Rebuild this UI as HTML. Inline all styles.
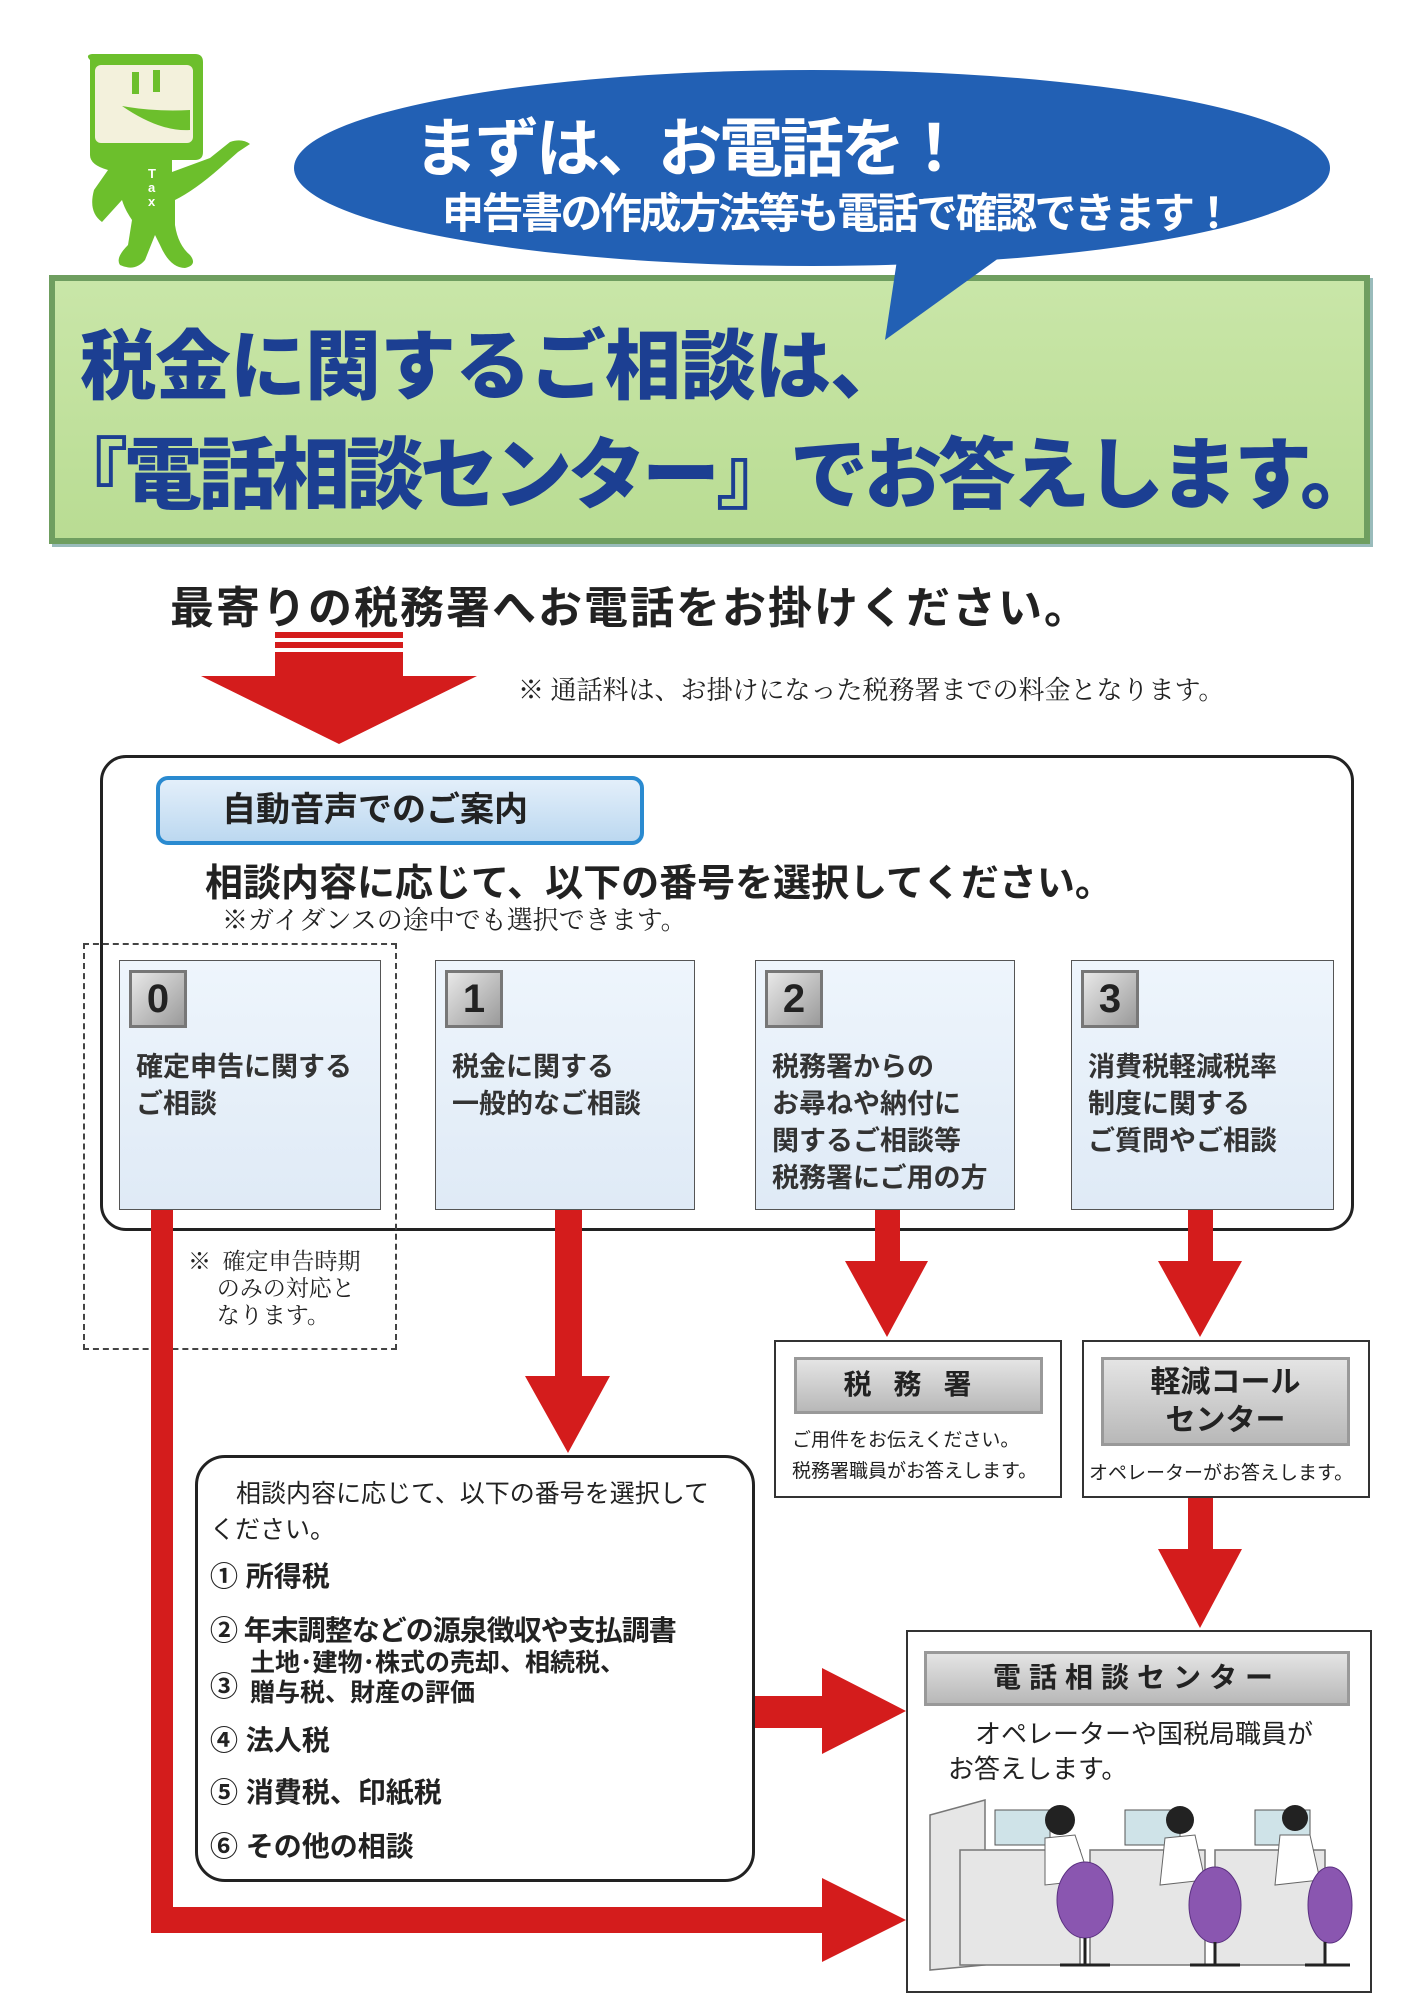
<!DOCTYPE html>
<html><head><meta charset="utf-8">
<style>
*{margin:0;padding:0;box-sizing:border-box}
body{width:1414px;height:2000px;background:#fff;position:relative;overflow:hidden;font-family:"Liberation Sans","Noto Sans CJK JP",sans-serif;}
.a{position:absolute;white-space:nowrap}
.serif{font-family:"Liberation Serif","Noto Serif CJK SC",serif;color:#222}
.opt{position:absolute;top:960px;height:250px;background:linear-gradient(#eef5fc,#dfeaf6);border:1.5px solid #555}
.num{position:absolute;left:9px;top:9px;width:58px;height:58px;background:linear-gradient(135deg,#e8e8e8,#9a9a9a);border:3px solid #777;font-size:40px;font-weight:bold;color:#222;text-align:center;line-height:52px}
.ot{position:absolute;left:16px;top:88px;font-size:27px;font-weight:bold;color:#333;line-height:37px;white-space:nowrap}
.glabel{position:absolute;background:linear-gradient(#e4e4e4,#b8b8b8);border:3px solid #999;font-weight:bold;color:#222;text-align:center}
</style></head><body>

<!-- mascot -->
<svg class="a" style="left:60px;top:40px" width="220" height="240" viewBox="0 0 220 240">
<path d="M30 20 Q25 15 32 14 L135 14 Q143 14 143 22 L143 112 Q143 120 135 120 L112 120 L112 132 L150 118 L170 102 Q182 98 190 104 L178 112 L160 128 Q135 150 115 160 L115 185 Q118 205 130 215 Q138 225 125 228 Q110 228 100 205 L95 195 L85 220 Q75 232 60 225 Q55 218 68 205 L72 180 Q65 170 62 160 L42 182 Q28 172 34 150 L48 130 Q30 125 30 115 Z" fill="#6cbf2c"/>
<rect x="35" y="25" width="98" height="78" rx="6" fill="#f3f1dc"/>
<rect x="72" y="32" width="7" height="22" fill="#6cbf2c"/><rect x="93" y="30" width="7" height="22" fill="#6cbf2c"/>
<path d="M62 66 Q95 72 130 70 L130 90 Q100 92 62 66Z" fill="#6cbf2c"/>
<text x="88" y="138" font-size="13" font-weight="bold" fill="#fff" font-family="Liberation Sans">T</text>
<text x="88" y="152" font-size="13" font-weight="bold" fill="#fff" font-family="Liberation Sans">a</text>
<text x="88" y="166" font-size="13" font-weight="bold" fill="#fff" font-family="Liberation Sans">x</text>
</svg>

<!-- green box -->
<div class="a" style="left:49px;top:275px;width:1321px;height:269px;background:linear-gradient(#c9e6a8,#b9dc93);border:6px solid #6f9e60;box-shadow:3px 3px 0 #9bb;"></div>
<div class="a" style="left:80px;top:305px;font-size:76px;font-weight:900;color:#1c3f92;letter-spacing:-1px">税金に関するご相談は、</div>
<div class="a" style="left:50px;top:413px;font-size:78px;font-weight:900;color:#1c3f92;letter-spacing:-4px">『電話相談センター』でお答えします。</div>

<!-- bubble -->
<svg class="a" style="left:0;top:0" width="1414" height="360">
<ellipse cx="812" cy="168" rx="518" ry="98" fill="#2260b4"/>
<path d="M900 240 L885 340 L1010 250 Z" fill="#2260b4"/>
</svg>
<div class="a" style="left:414px;top:98px;font-size:64px;font-weight:bold;color:#fff;letter-spacing:-3px">まずは、お電話を！</div>
<div class="a" style="left:442px;top:180px;font-size:42px;font-weight:bold;color:#fff;letter-spacing:-2.5px">申告書の作成方法等も電話で確認できます！</div>

<div class="a" style="left:170px;top:572px;font-size:44px;font-weight:bold;color:#222;letter-spacing:2px">最寄りの税務署へお電話をお掛けください。</div>

<!-- red down arrow -->
<svg class="a" style="left:195px;top:628px" width="290" height="120">
<rect x="80" y="4" width="128" height="6" fill="#d41c1c"/>
<rect x="80" y="14" width="128" height="6" fill="#d41c1c"/>
<rect x="80" y="24" width="128" height="24" fill="#d41c1c"/>
<path d="M6 48 L282 48 L144 116 Z" fill="#d41c1c"/>
</svg>
<div class="a serif" style="left:518px;top:670px;font-size:26px">※ 通話料は、お掛けになった税務署までの料金となります。</div>

<!-- big box -->
<div class="a" style="left:100px;top:755px;width:1254px;height:476px;border:3px solid #222;border-radius:26px"></div>
<div class="a" style="left:156px;top:776px;width:488px;height:69px;background:linear-gradient(#e3effa,#bcd8f0);border:4px solid #2a8ad0;border-radius:12px;font-size:34px;font-weight:bold;color:#222;padding-left:62px;line-height:60px">自動音声でのご案内</div>
<div class="a" style="left:205px;top:852px;font-size:38px;font-weight:bold;color:#222">相談内容に応じて、以下の番号を選択してください。</div>
<div class="a serif" style="left:222px;top:900px;font-size:26px">※ガイダンスの途中でも選択できます。</div>

<div class="a" style="left:83px;top:943px;width:314px;height:407px;border:2px dashed #444"></div>
<div class="a serif" style="left:188px;top:1248px;font-size:23px;line-height:27px;white-space:pre">※  確定申告時期
     のみの対応と
     なります。</div>

<div class="opt" style="left:119px;width:262px"><div class="num">0</div><div class="ot">確定申告に関する<br>ご相談</div></div>
<div class="opt" style="left:435px;width:260px"><div class="num">1</div><div class="ot">税金に関する<br>一般的なご相談</div></div>
<div class="opt" style="left:755px;width:260px"><div class="num">2</div><div class="ot">税務署からの<br>お尋ねや納付に<br>関するご相談等<br>税務署にご用の方</div></div>
<div class="opt" style="left:1071px;width:263px"><div class="num">3</div><div class="ot">消費税軽減税率<br>制度に関する<br>ご質問やご相談</div></div>

<!-- arrows -->
<svg class="a" style="left:0;top:0" width="1414" height="2000">
<g fill="#d41c1c">
<path d="M151 1210 L173 1210 L173 1907 L822 1907 L822 1878 L906 1920 L822 1962 L822 1933 L151 1933 Z"/>
<path d="M555 1210 L582 1210 L582 1376 L610 1376 L568 1453 L525 1376 L555 1376 Z"/>
<path d="M875 1210 L900 1210 L900 1261 L928 1261 L887 1337 L845 1261 L875 1261 Z"/>
<path d="M1188 1210 L1213 1210 L1213 1261 L1242 1261 L1200 1337 L1158 1261 L1188 1261 Z"/>
<path d="M1188 1498 L1213 1498 L1213 1549 L1242 1549 L1200 1628 L1158 1549 L1188 1549 Z"/>
<path d="M755 1696 L822 1696 L822 1668 L906 1711 L822 1754 L822 1728 L755 1728 Z"/>
</g>
</svg>

<!-- 税務署 -->
<div class="a" style="left:774px;top:1340px;width:288px;height:158px;border:2px solid #333;background:#fff"></div>
<div class="glabel" style="left:794px;top:1357px;width:249px;height:57px;font-size:28px;line-height:50px;letter-spacing:22px">税務署</div>
<div class="a" style="left:792px;top:1425px;font-size:19px;color:#222;line-height:31px">ご用件をお伝えください。<br>税務署職員がお答えします。</div>

<!-- 軽減 -->
<div class="a" style="left:1082px;top:1340px;width:288px;height:158px;border:2px solid #333;background:#fff"></div>
<div class="glabel" style="left:1101px;top:1357px;width:249px;height:89px;font-size:30px;line-height:38px;padding-top:4px">軽減コール<br>センター</div>
<div class="a" style="left:1089px;top:1458px;font-size:19px;color:#222">オペレーターがお答えします。</div>

<!-- list box -->
<div class="a" style="left:195px;top:1455px;width:560px;height:427px;border:3px solid #222;border-radius:30px;background:#fff"></div>
<div class="a" style="left:236px;top:1474px;font-size:25px;color:#222">相談内容に応じて、以下の番号を選択して</div>
<div class="a" style="left:210px;top:1510px;font-size:25px;color:#222">ください。</div>
<div class="a" style="left:210px;top:1555px;font-size:28px;font-weight:bold;color:#222">① 所得税</div>
<div class="a" style="left:210px;top:1609px;font-size:28px;font-weight:bold;color:#222;letter-spacing:-1px">② 年末調整などの源泉徴収や支払調書</div>
<div class="a" style="left:210px;top:1665px;font-size:28px;font-weight:bold;color:#222">③</div>
<div class="a" style="left:250px;top:1648px;font-size:25px;font-weight:bold;color:#222;line-height:30px">土地･建物･株式の売却、相続税、<br>贈与税、財産の評価</div>
<div class="a" style="left:210px;top:1719px;font-size:28px;font-weight:bold;color:#222">④ 法人税</div>
<div class="a" style="left:210px;top:1771px;font-size:28px;font-weight:bold;color:#222">⑤ 消費税、印紙税</div>
<div class="a" style="left:210px;top:1825px;font-size:28px;font-weight:bold;color:#222">⑥ その他の相談</div>

<!-- center -->
<div class="a" style="left:906px;top:1630px;width:466px;height:363px;border:2px solid #333;background:#fff"></div>
<div class="glabel" style="left:924px;top:1651px;width:426px;height:55px;font-size:28px;line-height:48px;letter-spacing:8px">電話相談センター</div>
<div class="a" style="left:975px;top:1714px;font-size:26px;color:#222">オペレーターや国税局職員が</div>
<div class="a" style="left:948px;top:1749px;font-size:26px;color:#222">お答えします。</div>
<svg class="a" style="left:925px;top:1790px" width="430" height="185">
<g fill="#e6e6e6" stroke="#777" stroke-width="1.5">
<path d="M5 25 L60 10 L60 175 L5 180 Z"/>
<rect x="35" y="60" width="120" height="115"/><rect x="165" y="60" width="115" height="115"/><rect x="290" y="60" width="110" height="115"/>
</g>
<g fill="#cfe3e8" stroke="#555"><rect x="70" y="20" width="55" height="35"/><rect x="200" y="20" width="55" height="35"/><rect x="330" y="20" width="55" height="35"/></g>
<g fill="#222"><circle cx="135" cy="30" r="15"/><circle cx="255" cy="30" r="14"/><circle cx="370" cy="28" r="13"/></g>
<g fill="#fff" stroke="#666"><path d="M120 48 L150 45 L165 90 L120 95Z"/><path d="M240 48 L270 45 L280 90 L235 95Z"/><path d="M355 45 L385 45 L395 90 L350 95Z"/></g>
<g fill="#8a56b0" stroke="#5a3080"><ellipse cx="160" cy="110" rx="28" ry="38"/><ellipse cx="290" cy="115" rx="26" ry="38"/><ellipse cx="405" cy="115" rx="22" ry="38"/></g>
<g stroke="#222" stroke-width="3"><line x1="160" y1="148" x2="160" y2="175"/><line x1="135" y1="175" x2="185" y2="175"/><line x1="290" y1="152" x2="290" y2="175"/><line x1="265" y1="175" x2="315" y2="175"/><line x1="400" y1="152" x2="400" y2="175"/><line x1="380" y1="175" x2="425" y2="175"/></g>
</svg>

</body></html>
